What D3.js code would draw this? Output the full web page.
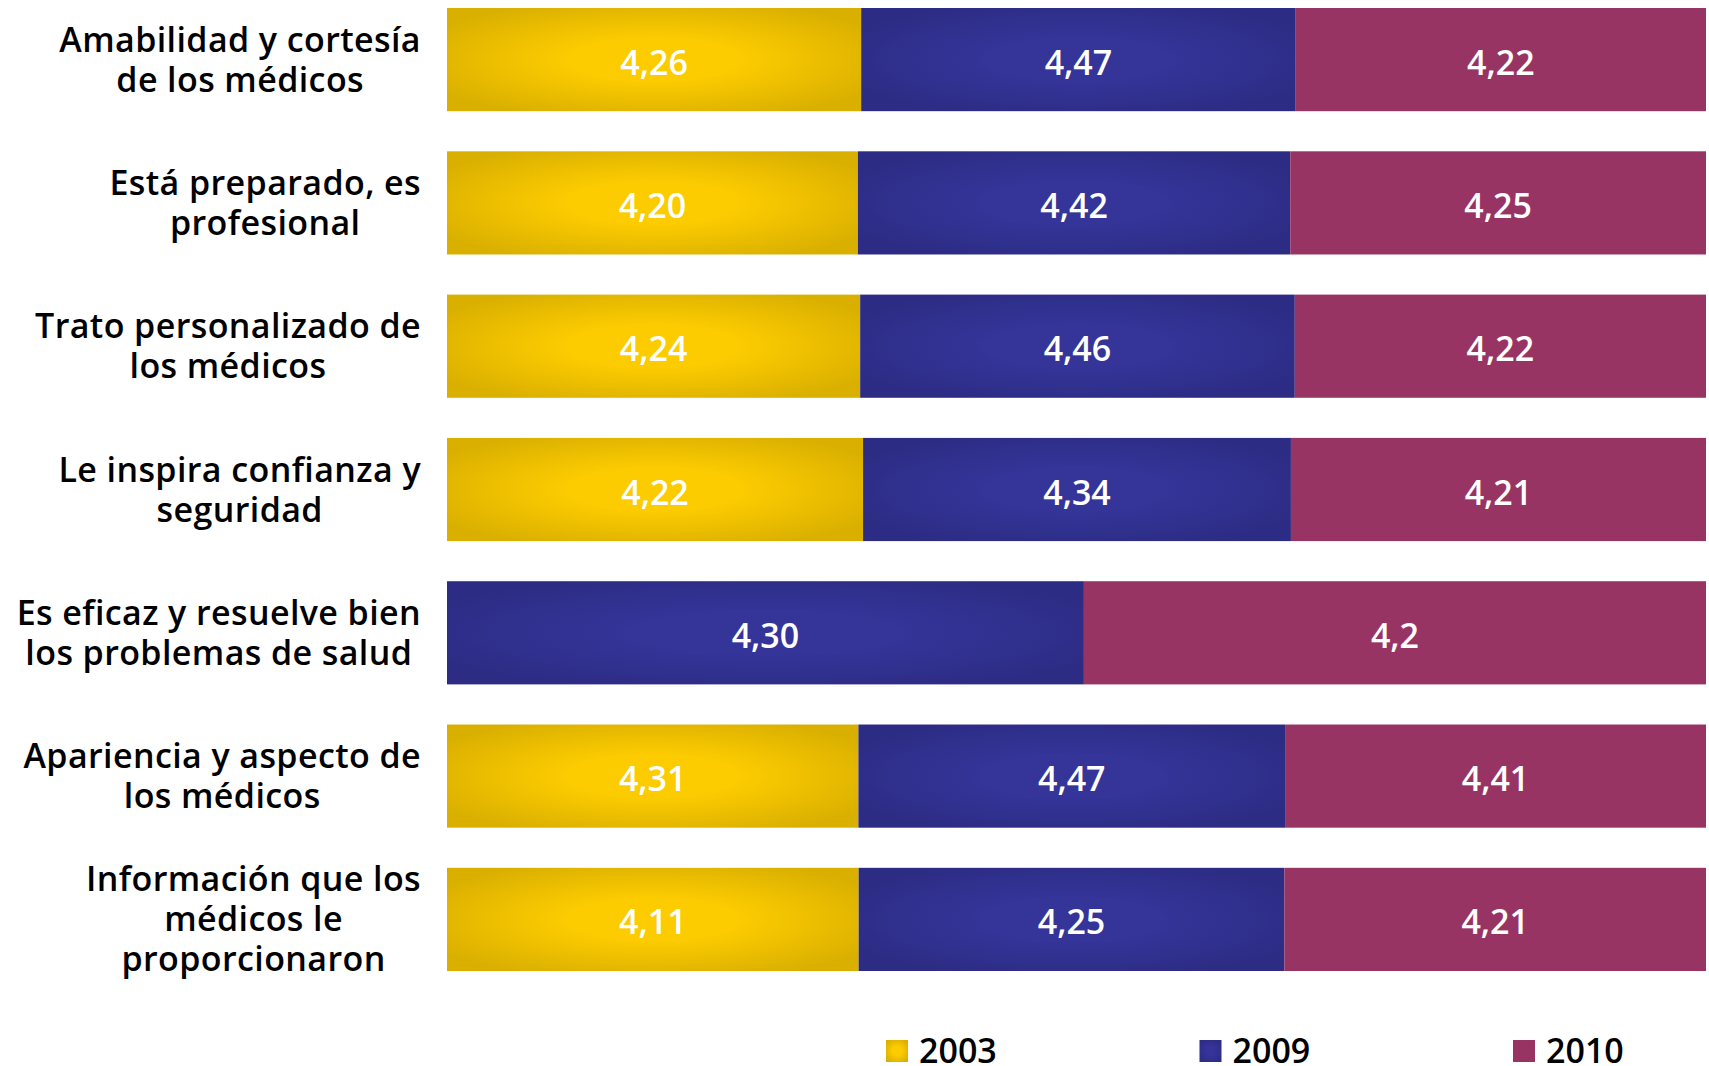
<!DOCTYPE html>
<html>
<head>
<meta charset="utf-8">
<script src="https://cdn.jsdelivr.net/npm/d3@7"></script>
<style>
  html, body { margin: 0; padding: 0; background: #fff; }
  svg { display: block; }
  text { font-family: "Open Sans", "DejaVu Sans", sans-serif; }
</style>
</head>
<body>
<svg id="chart" width="1709" height="1066"></svg>
<script>
// ---- data ----
const categories = [
  ["Amabilidad y cortesía", "de los médicos"],
  ["Está preparado, es", "profesional"],
  ["Trato personalizado de", "los médicos"],
  ["Le inspira confianza y", "seguridad"],
  ["Es eficaz y resuelve bien", "los problemas de salud"],
  ["Apariencia y aspecto de", "los médicos"],
  ["Información que los", "médicos le", "proporcionaron"]
];
const seriesKeys = ["2003", "2009", "2010"];
const values2003 = ["4,26", "4,20", "4,24", "4,22", "", "4,31", "4,11"];
const values2009 = ["4,47", "4,42", "4,46", "4,34", "4,30", "4,47", "4,25"];
const values2010 = ["4,22", "4,25", "4,22", "4,21", "4,2", "4,41", "4,21"];
const legendLabels = ["2003", "2009", "2010"];

// ---- build table ----
const num = s => s === "" ? 0 : +s.replace(",", ".");
const rows = categories.map((c, i) => ({
  id: i,
  lines: c,
  "2003": num(values2003[i]),
  "2009": num(values2009[i]),
  "2010": num(values2010[i]),
  labels: { "2003": values2003[i], "2009": values2009[i], "2010": values2010[i] }
}));

const svg = d3.select("#chart");
const defs = svg.append("defs");

function radial(id, inner, outer) {
  const g = defs.append("radialGradient").attr("id", id)
    .attr("cx", "50%").attr("cy", "50%").attr("r", "60%");
  g.append("stop").attr("offset", "0%").attr("stop-color", inner);
  g.append("stop").attr("offset", "35%").attr("stop-color", inner);
  g.append("stop").attr("offset", "100%").attr("stop-color", outer);
}
radial("g2003", "#fccb00", "#dab000");
radial("g2009", "#343499", "#2c2c84");
const fills = { "2003": "url(#g2003)", "2009": "url(#g2009)", "2010": "#983463" };

const x = d3.scaleLinear().domain([0, 1]).range([447, 1706]);
const y = d3.scaleBand().domain(rows.map(r => r.id)).range([8, 971])
  .paddingInner(0.28).paddingOuter(0);

const stack = d3.stack().keys(seriesKeys).offset(d3.stackOffsetExpand);
const stacked = stack(rows);

const layers = svg.append("g").selectAll("g").data(stacked).join("g")
  .attr("fill", d => fills[d.key]);

layers.selectAll("rect").data(d => d.map(p => ({ p, key: d.key })))
  .join("rect")
  .attr("x", d => x(d.p[0]))
  .attr("y", d => y(d.p.data.id))
  .attr("width", d => Math.max(0, x(d.p[1]) - x(d.p[0])))
  .attr("height", y.bandwidth());

// value labels
layers.selectAll("text").data(d => d.map(p => ({ p, key: d.key })).filter(d => d.p[1] - d.p[0] > 0))
  .join("text")
  .attr("x", d => (x(d.p[0]) + x(d.p[1])) / 2)
  .attr("y", d => y(d.p.data.id) + y.bandwidth() / 2 + 15)
  .attr("text-anchor", "middle")
  .attr("fill", "#fff")
  .attr("font-size", 34)
  .attr("font-weight", 600)
  .text(d => d.p.data.labels[d.key]);

// category labels: block right-aligned at 421, lines centered within block
const labelRight = 421;
const lineH = 40;
const catG = svg.append("g");
rows.forEach(r => {
  const cy = y(r.id) + y.bandwidth() / 2;
  const n = r.lines.length;
  const t = catG.append("text")
    .attr("text-anchor", "middle")
    .attr("font-size", 34)
    .attr("font-weight", 600)
    .attr("letter-spacing", 0.4)
    .attr("fill", "#000");
  const spans = r.lines.map((line, i) =>
    t.append("tspan")
      .attr("y", cy + (i - (n - 1) / 2) * lineH + 12)
      .text(line));
  const maxW = d3.max(spans, s => s.node().getComputedTextLength());
  spans.forEach(s => s.attr("x", labelRight - maxW / 2));
});

// legend
const legendX = d3.scalePoint().domain(legendLabels).range([886, 1513]);
const leg = svg.append("g").selectAll("g").data(legendLabels).join("g")
  .attr("transform", d => `translate(${legendX(d)},1040)`);
leg.append("rect").attr("width", 22).attr("height", 22)
  .attr("fill", d => fills[d]);
leg.append("text").attr("x", 33).attr("y", 23)
  .attr("font-size", 34).attr("font-weight", 600).attr("fill", "#000")
  .text(d => d);
</script>
</body>
</html>
